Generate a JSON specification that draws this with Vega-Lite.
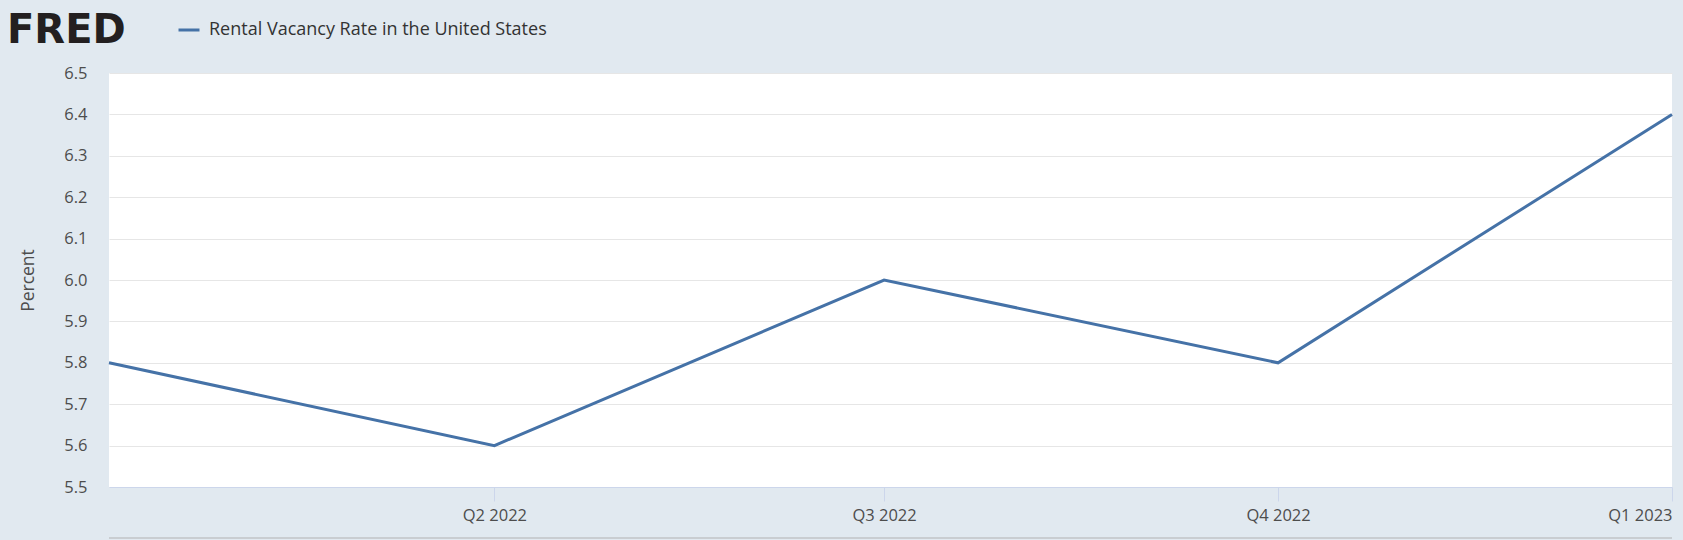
{
  "$schema": "https://vega.github.io/schema/vega-lite/v6.json",
  "width": 1563,
  "height": 414,
  "autosize": "none",
  "padding": {"left": 109, "top": 73, "right": 11, "bottom": 53},
  "background": "#e1e9f0",
  "title": {
    "text": "FRED",
    "orient": "top",
    "anchor": "start",
    "frame": "group",
    "dx": -102,
    "offset": 0,
    "dy": 33,
    "font": "DejaVu Sans",
    "fontSize": 40,
    "fontWeight": "bold",
    "color": "#231f20"
  },
  "config": {
    "view": {"fill": "#ffffff", "stroke": null},
    "font": "Open Sans"
  },
  "data": {
    "values": [
      {"date": "2022-01-01", "rate": 5.8, "series": "Rental Vacancy Rate in the United States"},
      {"date": "2022-04-01", "rate": 5.6, "series": "Rental Vacancy Rate in the United States"},
      {"date": "2022-07-01", "rate": 6.0, "series": "Rental Vacancy Rate in the United States"},
      {"date": "2022-10-01", "rate": 5.8, "series": "Rental Vacancy Rate in the United States"},
      {"date": "2023-01-01", "rate": 6.4, "series": "Rental Vacancy Rate in the United States"}
    ]
  },
  "layer": [
    {
      "mark": {"type": "line", "strokeWidth": 3, "clip": false},
      "encoding": {
        "x": {
          "field": "date",
          "type": "temporal",
          "scale": {"domain": ["2022-01-01", "2023-01-01"], "nice": false},
          "axis": {
            "title": null,
            "grid": false,
            "values": ["2022-04-01", "2022-07-01", "2022-10-01", "2023-01-01"],
            "format": "Q%q %Y",
            "labelFont": "Open Sans",
            "labelFontSize": 16.5,
            "labelColor": "#4d4d4d",
            "labelPadding": 6,
            "labelFlush": false,
            "labelOverlap": false,
            "labelAlign": {
              "condition": {"test": "year(datum.value) == 2023", "value": "right"},
              "value": "center"
            },
            "domainColor": "#ccd6eb",
            "domainWidth": 1,
            "tickColor": "#ccd6eb",
            "tickSize": 14,
            "tickWidth": 1
          }
        },
        "y": {
          "field": "rate",
          "type": "quantitative",
          "scale": {"domain": [5.5, 6.5], "nice": false, "zero": false},
          "axis": {
            "title": "Percent",
            "titleFont": "Open Sans",
            "titleFontSize": 17.5,
            "titleFontWeight": "normal",
            "titleColor": "#4d4d4d",
            "titlePadding": 26,
            "values": [5.5, 5.6, 5.7, 5.8, 5.9, 6.0, 6.1, 6.2, 6.3, 6.4, 6.5],
            "format": ".1f",
            "labelFont": "Open Sans",
            "labelFontSize": 16.5,
            "labelColor": "#4d4d4d",
            "labelPadding": 22,
            "domain": false,
            "ticks": false,
            "grid": true,
            "gridColor": "#e6e6e6",
            "gridWidth": 1
          }
        },
        "color": {
          "field": "series",
          "type": "nominal",
          "scale": {"range": ["#4572a7"]},
          "legend": {
            "title": null,
            "orient": "none",
            "legendX": 68,
            "legendY": -55,
            "symbolType": "stroke",
            "symbolSize": 440,
            "symbolStrokeWidth": 3,
            "labelFont": "Open Sans",
            "labelFontSize": 18,
            "labelColor": "#333333",
            "labelOffset": 8,
            "labelLimit": 600
          }
        }
      }
    },
    {
      "mark": {"type": "rule", "color": "#c8ccd0", "strokeWidth": 1.5, "clip": false},
      "encoding": {"y": {"datum": 5.377}}
    }
  ]
}
